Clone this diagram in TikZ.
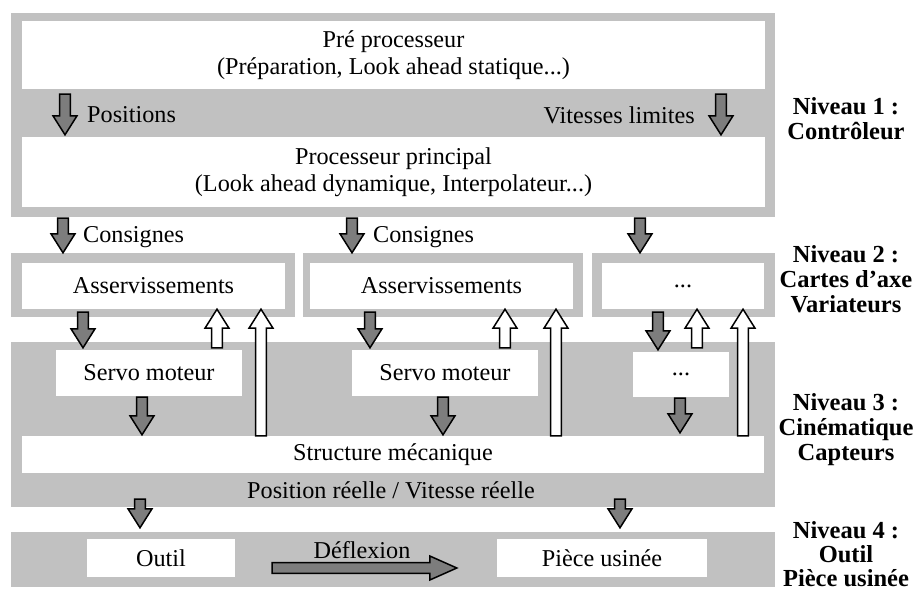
\documentclass[tikz,border=0pt]{standalone}
\usepackage{fontspec}
\setmainfont{Liberation Serif}
\usetikzlibrary{calc,positioning}
\definecolor{fond}{RGB}{193,193,193}
\definecolor{grisfleche}{RGB}{125,125,125}
\tikzset{
  panneau/.style={fill=fond, draw=none, inner sep=0pt},
  boite/.style={fill=white, draw=none, inner sep=0pt, align=center, font=\fontsize{24.2}{27}\selectfont},
  etiq/.style={inner sep=0pt, font=\fontsize{24.2}{27}\selectfont},
  niveau/.style={align=center, inner sep=0pt, font=\bfseries\fontsize{24.5}{25}\selectfont},
  pleine/.style={draw=black, line width=1.5pt, fill=grisfleche},
  creuse/.style={draw=black, line width=1.5pt, fill=white},
}
\def\tetefleche{19pt}
\newcommand{\blocfleche}[3][pleine]{%
  \coordinate (dep) at #2;
  \coordinate (pte) at #3;
  \coordinate (tete) at ($(pte)!\tetefleche!(dep)$);
  \filldraw[#1] ($(dep)!5.3pt!90:(pte)$) -- ($(tete)!5.3pt!90:(pte)$) -- ($(tete)!12pt!90:(pte)$) -- (pte)
    -- ($(tete)!12pt!-90:(pte)$) -- ($(tete)!5.3pt!-90:(pte)$) -- ($(dep)!5.3pt!-90:(pte)$) -- cycle;
}
\begin{document}
\begin{tikzpicture}[x=1pt, y=-1pt]
  \useasboundingbox (0,0) rectangle (913,592);

  \node[panneau, minimum width=764pt, minimum height=204pt] (niv1) at (393,115) {};
  \node[boite, minimum width=743pt, minimum height=68pt] (pre) at (393.5,55) {Pré processeur\\(Préparation, Look ahead statique...)};
  \node[boite, minimum width=743pt, minimum height=70pt] (proc) at (393.5,172) {Processeur principal\\(Look ahead dynamique, Interpolateur...)};
  \blocfleche{($(pre.south -| 65,0)+(0,5)$)}{($(proc.north -| 65,0)+(0,-2)$)}
  \node[etiq, anchor=west] (positions) at (87,115) {Positions};
  \blocfleche{($(pre.south -| 721,0)+(0,5)$)}{($(proc.north -| 721,0)+(0,-2)$)}
  \node[etiq, anchor=east] (vitesses) at (695,115) {Vitesses limites};

  \node[panneau, minimum width=284pt, minimum height=64pt] (panA) at (153,285) {};
  \node[panneau, minimum width=280pt, minimum height=64pt] (panB) at (443,285) {};
  \node[panneau, minimum width=183pt, minimum height=64pt] (panC) at (683.5,285) {};
  \node[boite, minimum width=263pt, minimum height=46pt] (asvA) at (153.5,286) {Asservissements};
  \node[boite, minimum width=263pt, minimum height=46pt] (asvB) at (441.5,286) {Asservissements};
  \node[boite, minimum width=162pt, minimum height=46pt] (asvC) at (683,286) {...};
  \blocfleche{($(niv1.south -| 63,0)+(0,1)$)}{(panA.north -| 63,0)}
  \blocfleche{($(niv1.south -| 352,0)+(0,1)$)}{(panB.north -| 352,0)}
  \blocfleche{($(niv1.south -| 640,0)+(0,1)$)}{(panC.north -| 640,0)}
  \node[etiq, anchor=west] (consA) at (83,237) {Consignes};
  \node[etiq, anchor=west] (consB) at (373,237) {Consignes};

  \node[panneau, minimum width=764pt, minimum height=165pt] (niv3) at (393,424.5) {};
  \node[boite, minimum width=186pt, minimum height=46pt] (servoA) at (149,373) {Servo moteur};
  \node[boite, minimum width=186pt, minimum height=46pt] (servoB) at (445,373) {Servo moteur};
  \node[boite, minimum width=96pt, minimum height=45pt] (servoC) at (681,374.5) {...};
  \node[boite, minimum width=742pt, minimum height=37pt] (struct) at (393,454.5) {Structure mécanique};
  \node[etiq] (reel) at (391,490) {Position réelle / Vitesse réelle};

  \blocfleche{($(asvA.south -| 83,0)+(0,3)$)}{($(servoA.north -| 83,0)+(0,-2)$)}
  \blocfleche[creuse]{($(servoA.north -| 217,0)+(0,-2)$)}{(asvA.south -| 217,0)}
  \blocfleche[creuse]{(struct.north -| 261,0)}{(asvA.south -| 261,0)}
  \blocfleche{($(servoA.south -| 142,0)+(0,1)$)}{($(struct.north -| 142,0)+(0,-1)$)}

  \blocfleche{($(asvB.south -| 370,0)+(0,3)$)}{($(servoB.north -| 370,0)+(0,-2)$)}
  \blocfleche[creuse]{($(servoB.north -| 505,0)+(0,-2)$)}{(asvB.south -| 505,0)}
  \blocfleche[creuse]{(struct.north -| 556,0)}{(asvB.south -| 556,0)}
  \blocfleche{($(servoB.south -| 443,0)+(0,1)$)}{($(struct.north -| 443,0)+(0,-1)$)}

  \blocfleche{($(asvC.south -| 658,0)+(0,3)$)}{($(servoC.north -| 658,0)+(0,-2)$)}
  \blocfleche[creuse]{($(servoC.north -| 697,0)+(0,-4)$)}{(asvC.south -| 697,0)}
  \blocfleche[creuse]{(struct.north -| 743,0)}{(asvC.south -| 743,0)}
  \blocfleche{($(servoC.south -| 680,0)+(0,1)$)}{($(struct.north -| 680,0)+(0,-3)$)}

  \node[panneau, minimum width=764pt, minimum height=55pt] (niv4) at (393,559.5) {};
  \node[boite, minimum width=148pt, minimum height=38pt] (outil) at (161,558) {Outil};
  \node[boite, minimum width=210pt, minimum height=38pt] (piece) at (602,558) {Pièce usinée};
  \blocfleche{($(niv3.south -| 140,0)+(0,-8)$)}{($(niv4.north -| 140,0)+(0,-4)$)}
  \blocfleche{($(niv3.south -| 620,0)+(0,-8)$)}{($(niv4.north -| 620,0)+(0,-4)$)}
  {\def\tetefleche{27pt}
  \blocfleche{($(outil.east)+(37,10)$)}{($(piece.west)+(-40,10)$)}}
  \node[etiq] (deflexion) at (362,550) {Déflexion};

  \node[niveau] (lab1) at (846,118.5) {Niveau 1 :\\Contrôleur};
  \node[niveau] (lab2) at (846,279) {Niveau 2 :\\Cartes d’axe\\Variateurs};
  \node[niveau] (lab3) at (846,430) {Niveau 3 :\\Cinématique\\Capteurs};
  \node[niveau, font=\bfseries\fontsize{24.5}{24}\selectfont] (lab4) at (846,554) {Niveau 4 :\\Outil\\Pièce usinée};
\end{tikzpicture}
\end{document}
